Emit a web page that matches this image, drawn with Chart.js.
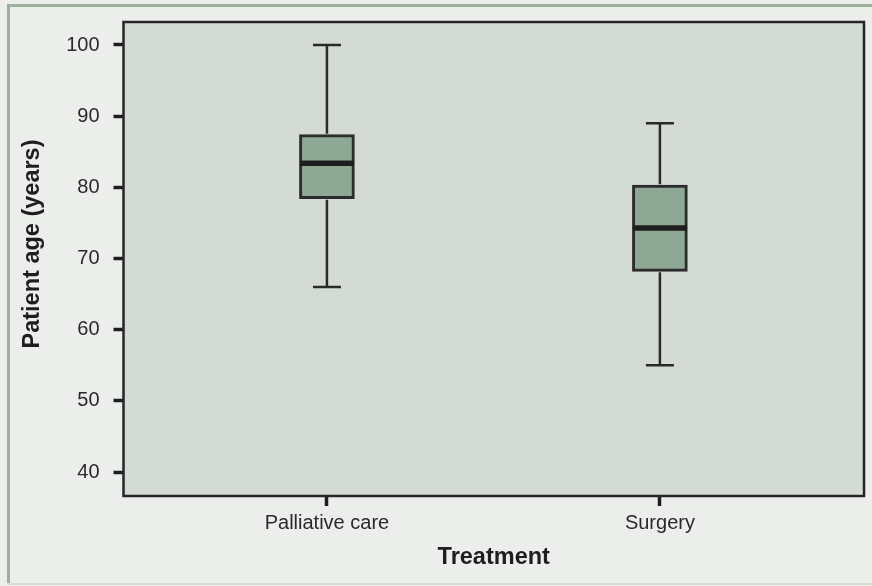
<!DOCTYPE html>
<html>
<head>
<meta charset="utf-8">
<script src="https://cdn.jsdelivr.net/npm/chart.js@4/dist/chart.umd.min.js"></script>
<style>
  html, body { margin: 0; padding: 0; background: #eceeeb; }
  #wrap { width: 872px; height: 586px; position: relative; }
</style>
</head>
<body>
<div id="wrap"><canvas id="c" width="872" height="586"></canvas></div>
<script>
const categories = ['Palliative care', 'Surgery'];
const whiskerLow = [66, 55];
const q1 = [78.4, 68.2];
const median = [83.4, 74.3];
const q3 = [87.4, 80.3];
const whiskerHigh = [100, 89];
const yTicks = [40, 50, 60, 70, 80, 90, 100];
const xTitle = 'Treatment';
const yTitle = 'Patient age (years)';

const boxData = categories.map((c, i) => ({ x: i + 1, y: [q1[i], q3[i]] }));

const tickFont = { family: 'Liberation Sans, Arial, sans-serif', size: 20 };
const titleFont = { family: 'Liberation Sans, Arial, sans-serif', size: 23.5, weight: 'bold' };

const framePlugin = {
  id: 'frame',
  beforeDraw(chart) {
    const ctx = chart.ctx;
    const a = chart.chartArea;
    ctx.save();
    ctx.fillStyle = '#eceeeb';
    ctx.fillRect(0, 0, chart.width, chart.height);
    ctx.fillStyle = '#9cb09c';
    ctx.fillRect(7, 4, chart.width - 7, 3);
    ctx.fillRect(7, 4, 3, chart.height - 6);
    ctx.fillStyle = '#d9ddd9';
    ctx.fillRect(7, chart.height - 3, chart.width - 7, 2);
    ctx.fillStyle = '#d3dbd4';
    ctx.fillRect(a.left, a.top, a.right - a.left, a.bottom - a.top);
    ctx.restore();
  },
  afterDraw(chart) {
    const ctx = chart.ctx;
    const a = chart.chartArea;
    ctx.save();
    ctx.strokeStyle = '#262626';
    ctx.lineWidth = 2.5;
    ctx.strokeRect(a.left, a.top, a.right - a.left, a.bottom - a.top);
    // y axis title (placed slightly above the plot centre, as in the reference)
    ctx.translate(33, a.top + (a.bottom - a.top) / 2 - 15);
    ctx.rotate(-Math.PI / 2);
    ctx.fillStyle = '#1e1e1e';
    ctx.font = 'bold 23.5px "Liberation Sans", Arial, sans-serif';
    ctx.textAlign = 'center';
    ctx.textBaseline = 'middle';
    ctx.fillText(yTitle, 0, 0);
    ctx.restore();
  }
};

const boxPlugin = {
  id: 'boxparts',
  afterDatasetsDraw(chart) {
    const ctx = chart.ctx;
    const xs = chart.scales.x, ys = chart.scales.y;
    const capHalf = 14, boxHalf = 27;
    ctx.save();
    ctx.lineCap = 'butt';
    categories.forEach((c, i) => {
      const px = xs.getPixelForValue(i + 1);
      const yHi = ys.getPixelForValue(whiskerHigh[i]);
      const yLo = ys.getPixelForValue(whiskerLow[i]);
      const yQ1 = ys.getPixelForValue(q1[i]);
      const yQ3 = ys.getPixelForValue(q3[i]);
      const yMed = ys.getPixelForValue(median[i]);
      ctx.strokeStyle = '#2a2a2a';
      ctx.lineWidth = 2.5;
      ctx.beginPath();
      ctx.moveTo(px, yHi); ctx.lineTo(px, yQ3 - 1);
      ctx.moveTo(px, yQ1 + 1); ctx.lineTo(px, yLo);
      ctx.moveTo(px - capHalf, yHi); ctx.lineTo(px + capHalf, yHi);
      ctx.moveTo(px - capHalf, yLo); ctx.lineTo(px + capHalf, yLo);
      ctx.stroke();
      ctx.strokeStyle = '#1e1e1e';
      ctx.lineWidth = 5.5;
      ctx.beginPath();
      ctx.moveTo(px - boxHalf, yMed); ctx.lineTo(px + boxHalf, yMed);
      ctx.stroke();
    });
    ctx.restore();
  }
};

new Chart(document.getElementById('c'), {
  type: 'bar',
  data: {
    datasets: [{
      data: boxData,
      backgroundColor: '#8fa895',
      borderColor: '#2c2c2c',
      borderWidth: 3,
      borderSkipped: false,
      barThickness: 55
    }]
  },
  options: {
    responsive: false,
    animation: false,
    events: [],
    layout: { padding: { top: 22, right: 8, bottom: 0, left: 0 } },
    plugins: { legend: { display: false }, tooltip: { enabled: false } },
    scales: {
      x: {
        type: 'linear',
        min: 0.389,
        max: 2.613,
        offset: false,
        afterBuildTicks(axis) { axis.ticks = categories.map((c, i) => ({ value: i + 1 })); },
        afterFit(axis) { axis.height = 90; axis.paddingLeft = 0; axis.paddingRight = 0; },
        grid: { offset: false, drawOnChartArea: false, drawTicks: true, tickLength: 10, tickWidth: 3.5, tickColor: '#1e1e1e' },
        border: { display: false },
        ticks: {
          autoSkip: false, maxRotation: 0, padding: 5,
          color: '#2a2a2a',
          font: tickFont,
          callback: (v) => categories[Math.round(v) - 1]
        },
        title: {
          display: true, text: xTitle, color: '#1e1e1e',
          font: titleFont,
          padding: { top: 0, bottom: 14 }
        }
      },
      y: {
        type: 'linear',
        min: 36.63,
        max: 103.23,
        afterBuildTicks(axis) { axis.ticks = yTicks.map(v => ({ value: v })); },
        afterFit(axis) { axis.width = 123.5; axis.paddingTop = 0; axis.paddingBottom = 0; },
        grid: { drawOnChartArea: false, drawTicks: true, tickLength: 10, tickWidth: 3.5, tickColor: '#1e1e1e' },
        border: { display: false },
        ticks: {
          padding: 14,
          color: '#2a2a2a',
          font: tickFont
        },
        title: { display: false }
      }
    }
  },
  plugins: [framePlugin, boxPlugin]
});
</script>
</body>
</html>
